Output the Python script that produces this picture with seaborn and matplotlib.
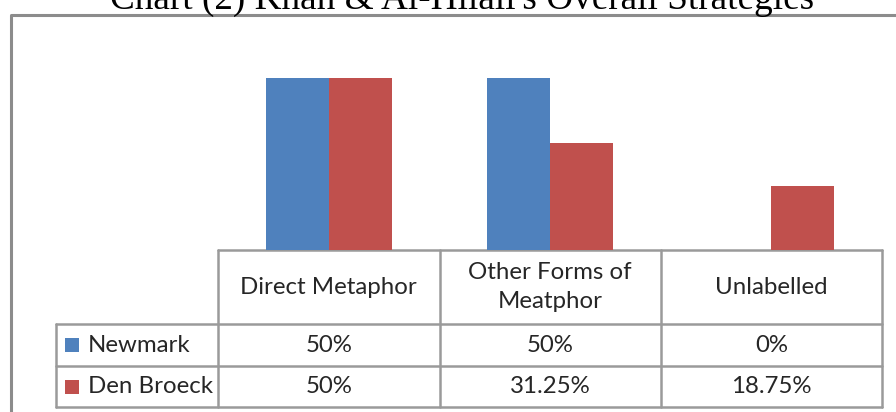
import matplotlib
matplotlib.use('Agg')
import matplotlib.pyplot as plt
import seaborn as sns
import pandas as pd

# data
categories = ['Direct Metaphor', 'Other Forms of\nMeatphor', 'Unlabelled']
series = ['Newmark', 'Den Broeck']
newmark = [50, 50, 0]
den_broeck = [50, 31.25, 18.75]
colors = ['#4F81BD', '#C0504D']

title = "Chart (2) Khan & Al-Hilali's Overall Strategies"

df = pd.DataFrame({
    'category': categories * 2,
    'series': [series[0]] * 3 + [series[1]] * 3,
    'value': newmark + den_broeck,
})

sns.set_style('white')
plt.rcParams['font.family'] = ['Lato', 'DejaVu Sans']

W, H = 896, 412
fig = plt.figure(figsize=(W / 100, H / 100), dpi=100)

# pixel helper -> figure fraction
def fx(px):
    return px / W

def fy(py):
    return 1 - py / H

# column / row edges of the data table (pixels)
col_x = [56, 218, 439.5, 660.5, 882]
row_y = [250, 324, 366, 407]

# bar area sits on top of the table
ax = fig.add_axes([fx(col_x[1]), fy(row_y[0]), fx(col_x[-1] - col_x[1]), (row_y[0] - 44) / H])
sns.barplot(data=df, x='category', y='value', hue='series', hue_order=series,
            palette=colors, width=0.57, saturation=1, legend=False, ax=ax,
            edgecolor='none')
ax.set_xlim(-0.5, len(categories) - 0.5)
ax.set_ylim(0, 60)
ax.axis('off')

# overlay in pixel coordinates for frame, title and table
ov = fig.add_axes([0, 0, 1, 1], zorder=-1)
ov.set_xlim(0, W)
ov.set_ylim(H, 0)
ov.axis('off')

frame_c = '#8C8C8C'
ov.plot([11, 11, W + 5], [H + 5, 15, 15], color=frame_c, lw=2.2, solid_capstyle='butt')

# title is clipped by the top edge, as in the reference
fig.text(fx(462), fy(9), title, ha='center', va='baseline',
         fontsize=26.8, family='Liberation Serif', color='black')

grid_c = '#9A9A9A'
lw = 1.8
# horizontal lines
ov.plot([col_x[1], col_x[-1]], [row_y[0], row_y[0]], color=grid_c, lw=lw)
for y in row_y[1:]:
    ov.plot([col_x[0], col_x[-1]], [y, y], color=grid_c, lw=lw)
# vertical lines
ov.plot([col_x[0], col_x[0]], [row_y[1], row_y[-1]], color=grid_c, lw=lw)
for x in col_x[1:]:
    ov.plot([x, x], [row_y[0], row_y[-1]], color=grid_c, lw=lw)

fs = 17.3
for i, cat in enumerate(categories):
    cx = (col_x[i + 1] + col_x[i + 2]) / 2
    ov.text(cx, (row_y[0] + row_y[1]) / 2, cat, ha='center', va='center',
            fontsize=fs, linespacing=1.45)

for r, (name, vals) in enumerate(zip(series, [newmark, den_broeck])):
    cy = (row_y[r + 1] + row_y[r + 2]) / 2
    ov.add_patch(plt.Rectangle((65, cy - 7), 14, 14, color=colors[r], lw=0))
    ov.text(88, cy, name, ha='left', va='center', fontsize=fs)
    for i, v in enumerate(vals):
        cx = (col_x[i + 1] + col_x[i + 2]) / 2
        ov.text(cx, cy, f'{v:g}%', ha='center', va='center', fontsize=fs)

fig.savefig('out.png', dpi=100)
